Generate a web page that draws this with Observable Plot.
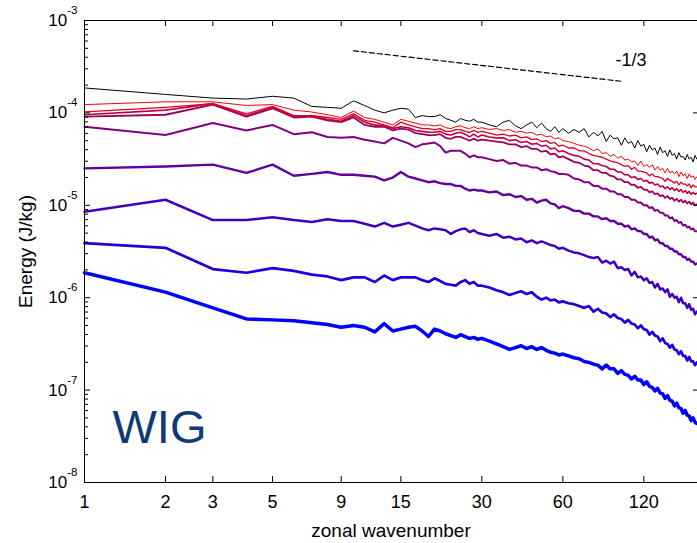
<!DOCTYPE html>
<html><head><meta charset="utf-8">
<script src="https://cdn.jsdelivr.net/npm/d3@7"></script>
<script src="https://cdn.jsdelivr.net/npm/@observablehq/plot@0.6"></script>
<style>
html,body{margin:0;padding:0;background:#fff;}
#chart{width:697px;height:543px;overflow:hidden;}
</style></head><body><div id="chart"></div>
<script>
// zonal wavenumbers sampled
const wavenumbers = [1,2,3,4,5,6,7,8,9,10,11,12,13,14,15,16,17,18,19,20,21,22,23,24,25,26,27,28,29,30,
  32,34,36,38,40,42,44,46,48,50,52,54,56,58,60,
  63,66,69,72,75,78,81,84,87,90,93,96,99,102,105,108,111,114,117,120,123,126,129,132,135,138,141,144,147,150,153,156,159,162,165,168,171,174,177,180,183,186,189];

// log10 of energy (J/kg)
const logE1 = [-3.73,-3.80,-3.84,-3.85,-3.82,-3.84,-3.93,-3.94,-3.95,-3.87,-3.92,-3.97,-4.00,-3.97,-3.95,-3.96,-4.05,-4.03,-4.04,-4.04,-4.02,-4.06,-4.08,-4.10,-4.06,-4.08,-4.09,-4.07,-4.10,-4.10,
  -4.13,-4.15,-4.10,-4.08,-4.14,-4.17,-4.13,-4.10,-4.16,-4.11,-4.17,-4.20,-4.15,-4.21,-4.17,
  -4.22,-4.18,-4.21,-4.17,-4.26,-4.21,-4.25,-4.20,-4.31,-4.24,-4.28,-4.27,-4.35,-4.27,-4.33,-4.31,-4.38,-4.30,-4.36,-4.34,-4.42,-4.35,-4.40,-4.38,-4.45,-4.37,-4.43,-4.41,-4.47,-4.40,-4.46,-4.44,-4.50,-4.43,-4.48,-4.47,-4.51,-4.45,-4.50,-4.48,-4.53,-4.46,-4.50];
const logE2 = [-3.91,-3.88,-3.88,-3.92,-3.91,-3.97,-3.99,-4.02,-4.05,-3.98,-4.05,-4.07,-4.10,-4.13,-4.07,-4.09,-4.11,-4.13,-4.13,-4.14,-4.13,-4.16,-4.17,-4.15,-4.14,-4.16,-4.17,-4.15,-4.17,-4.16,
  -4.18,-4.17,-4.19,-4.18,-4.21,-4.20,-4.22,-4.21,-4.24,-4.23,-4.26,-4.25,-4.28,-4.27,-4.30,
  -4.31,-4.33,-4.35,-4.36,-4.38,-4.41,-4.39,-4.44,-4.43,-4.47,-4.45,-4.49,-4.47,-4.51,-4.50,-4.53,-4.52,-4.57,-4.52,-4.58,-4.56,-4.59,-4.56,-4.62,-4.58,-4.62,-4.60,-4.65,-4.60,-4.65,-4.63,-4.66,-4.63,-4.69,-4.64,-4.68,-4.66,-4.71,-4.66,-4.70,-4.68,-4.72,-4.69];
const logE3 = [-3.99,-3.94,-3.90,-4.01,-3.93,-4.03,-4.03,-4.05,-4.07,-4.01,-4.08,-4.10,-4.13,-4.16,-4.10,-4.13,-4.15,-4.17,-4.17,-4.18,-4.17,-4.20,-4.20,-4.18,-4.18,-4.20,-4.21,-4.19,-4.21,-4.20,
  -4.22,-4.24,-4.23,-4.25,-4.24,-4.27,-4.26,-4.29,-4.28,-4.31,-4.30,-4.33,-4.32,-4.36,-4.35,
  -4.38,-4.38,-4.41,-4.41,-4.44,-4.46,-4.47,-4.48,-4.50,-4.52,-4.53,-4.54,-4.56,-4.58,-4.57,-4.61,-4.59,-4.63,-4.63,-4.64,-4.65,-4.68,-4.66,-4.69,-4.69,-4.70,-4.71,-4.74,-4.71,-4.73,-4.74,-4.76,-4.74,-4.78,-4.75,-4.77,-4.77,-4.79,-4.77,-4.81,-4.78,-4.80,-4.80];
const logE4 = [-4.02,-3.97,-3.90,-4.03,-3.94,-4.04,-4.03,-4.07,-4.09,-4.03,-4.10,-4.13,-4.14,-4.17,-4.15,-4.16,-4.19,-4.20,-4.21,-4.21,-4.20,-4.23,-4.24,-4.22,-4.21,-4.23,-4.26,-4.23,-4.26,-4.24,
  -4.26,-4.27,-4.27,-4.30,-4.29,-4.32,-4.31,-4.34,-4.33,-4.36,-4.35,-4.39,-4.38,-4.42,-4.41,
  -4.44,-4.46,-4.47,-4.50,-4.51,-4.55,-4.55,-4.57,-4.58,-4.61,-4.61,-4.64,-4.64,-4.67,-4.67,-4.70,-4.69,-4.72,-4.71,-4.74,-4.73,-4.76,-4.75,-4.78,-4.77,-4.80,-4.79,-4.82,-4.80,-4.83,-4.81,-4.84,-4.82,-4.85,-4.83,-4.86,-4.84,-4.87,-4.85,-4.88,-4.86,-4.88,-4.87];
const logE5 = [-4.04,-4.02,-3.91,-4.04,-3.95,-4.05,-4.04,-4.08,-4.10,-4.05,-4.13,-4.15,-4.15,-4.19,-4.17,-4.18,-4.22,-4.23,-4.24,-4.24,-4.23,-4.27,-4.28,-4.26,-4.26,-4.28,-4.30,-4.28,-4.30,-4.29,
  -4.30,-4.31,-4.32,-4.34,-4.34,-4.37,-4.36,-4.39,-4.39,-4.42,-4.41,-4.45,-4.44,-4.48,-4.47,
  -4.50,-4.53,-4.54,-4.57,-4.58,-4.62,-4.62,-4.65,-4.65,-4.68,-4.69,-4.72,-4.72,-4.75,-4.75,-4.78,-4.78,-4.81,-4.80,-4.83,-4.83,-4.86,-4.85,-4.88,-4.87,-4.90,-4.89,-4.92,-4.90,-4.93,-4.92,-4.95,-4.93,-4.96,-4.94,-4.97,-4.95,-4.98,-4.96,-4.99,-4.97,-5.00,-4.99];
const logE6 = [-4.15,-4.24,-4.11,-4.19,-4.13,-4.23,-4.21,-4.26,-4.27,-4.26,-4.29,-4.31,-4.33,-4.27,-4.30,-4.33,-4.37,-4.34,-4.33,-4.32,-4.36,-4.43,-4.41,-4.41,-4.41,-4.44,-4.48,-4.46,-4.48,-4.48,
  -4.50,-4.52,-4.51,-4.55,-4.54,-4.57,-4.57,-4.59,-4.59,-4.62,-4.61,-4.63,-4.64,-4.66,-4.66,
  -4.67,-4.71,-4.72,-4.75,-4.75,-4.79,-4.79,-4.82,-4.82,-4.85,-4.85,-4.88,-4.88,-4.91,-4.91,-4.94,-4.94,-4.97,-4.97,-5.00,-5.00,-5.03,-5.02,-5.06,-5.05,-5.08,-5.08,-5.11,-5.11,-5.14,-5.13,-5.17,-5.16,-5.19,-5.18,-5.22,-5.21,-5.24,-5.23,-5.26,-5.25,-5.28,-5.28];
const logE7 = [-4.60,-4.58,-4.56,-4.65,-4.56,-4.68,-4.66,-4.64,-4.67,-4.67,-4.68,-4.69,-4.73,-4.70,-4.64,-4.69,-4.71,-4.73,-4.75,-4.74,-4.76,-4.77,-4.77,-4.79,-4.79,-4.82,-4.84,-4.83,-4.84,-4.84,
  -4.86,-4.85,-4.89,-4.88,-4.91,-4.90,-4.94,-4.93,-4.97,-4.95,-4.94,-4.98,-4.99,-5.03,-5.01,
  -5.03,-5.06,-5.06,-5.09,-5.09,-5.12,-5.12,-5.15,-5.14,-5.17,-5.17,-5.20,-5.20,-5.23,-5.22,-5.26,-5.25,-5.28,-5.28,-5.31,-5.31,-5.35,-5.34,-5.38,-5.37,-5.41,-5.41,-5.44,-5.44,-5.47,-5.47,-5.50,-5.50,-5.53,-5.53,-5.56,-5.56,-5.59,-5.58,-5.61,-5.61,-5.64,-5.63];
const logE8 = [-5.07,-4.94,-5.16,-5.16,-5.13,-5.16,-5.18,-5.15,-5.17,-5.17,-5.20,-5.23,-5.19,-5.23,-5.21,-5.19,-5.22,-5.25,-5.27,-5.25,-5.26,-5.27,-5.31,-5.28,-5.26,-5.25,-5.29,-5.27,-5.30,-5.31,
  -5.33,-5.31,-5.35,-5.34,-5.37,-5.36,-5.40,-5.38,-5.41,-5.39,-5.41,-5.43,-5.44,-5.47,-5.46,
  -5.49,-5.51,-5.52,-5.54,-5.56,-5.57,-5.56,-5.62,-5.60,-5.63,-5.61,-5.68,-5.67,-5.70,-5.69,-5.76,-5.72,-5.78,-5.77,-5.81,-5.79,-5.84,-5.83,-5.89,-5.85,-5.91,-5.90,-5.94,-5.91,-5.99,-5.96,-6.00,-5.99,-6.05,-6.00,-6.06,-6.06,-6.11,-6.07,-6.13,-6.12,-6.18,-6.15];
const logE9 = [-5.41,-5.46,-5.69,-5.73,-5.68,-5.71,-5.75,-5.77,-5.81,-5.78,-5.78,-5.83,-5.76,-5.81,-5.78,-5.78,-5.78,-5.81,-5.83,-5.79,-5.82,-5.85,-5.86,-5.87,-5.83,-5.81,-5.85,-5.83,-5.87,-5.87,
  -5.89,-5.92,-5.94,-5.97,-5.95,-5.93,-5.96,-5.94,-5.99,-6.02,-6.00,-6.03,-6.02,-6.05,-6.04,
  -6.06,-6.07,-6.09,-6.11,-6.09,-6.15,-6.12,-6.16,-6.17,-6.21,-6.18,-6.22,-6.23,-6.27,-6.24,-6.28,-6.29,-6.33,-6.30,-6.34,-6.35,-6.40,-6.37,-6.41,-6.42,-6.47,-6.44,-6.49,-6.50,-6.54,-6.51,-6.56,-6.57,-6.61,-6.58,-6.63,-6.63,-6.68,-6.64,-6.69,-6.69,-6.73,-6.70];
const logE10 = [-5.73,-5.94,-6.11,-6.23,-6.24,-6.25,-6.27,-6.29,-6.32,-6.30,-6.32,-6.37,-6.28,-6.36,-6.34,-6.32,-6.31,-6.36,-6.42,-6.34,-6.36,-6.39,-6.41,-6.43,-6.40,-6.42,-6.44,-6.43,-6.45,-6.44,
  -6.47,-6.50,-6.53,-6.56,-6.54,-6.52,-6.55,-6.53,-6.56,-6.54,-6.57,-6.59,-6.60,-6.62,-6.61,
  -6.63,-6.65,-6.66,-6.69,-6.70,-6.72,-6.73,-6.77,-6.73,-6.77,-6.77,-6.82,-6.79,-6.83,-6.84,-6.88,-6.85,-6.89,-6.89,-6.94,-6.91,-6.96,-6.97,-7.01,-6.98,-7.03,-7.04,-7.09,-7.06,-7.11,-7.12,-7.17,-7.14,-7.19,-7.20,-7.25,-7.22,-7.27,-7.28,-7.33,-7.30,-7.35,-7.36];

const seriesLogs = [logE1, logE2, logE3, logE4, logE5, logE6, logE7, logE8, logE9, logE10];
const seriesColors = ["#000000","#ff0000","#df0020","#bf0040","#9f0060","#800080","#60009f","#4000bf","#2000df","#0000ff"];
const seriesWidths = [1, 1, 1.3, 1.6, 1.8, 2, 2.4, 2.5, 2.7, 3.5];

// reference slope line (-1/3)
const slopeK = [10, 100];
const slopeEnergy = [4.7e-4, 2.19e-4];
const slopeLabel = "-1/3";

const xTicks = [1, 2, 3, 5, 9, 15, 30, 60, 120];
const yMajorTicks = [1e-8, 1e-7, 1e-6, 1e-5, 1e-4, 1e-3];
const yMinorTicks = [];
for (let e = -8; e < -3; e++) for (let m = 2; m <= 9; m++) yMinorTicks.push(m * Math.pow(10, e));
const xLabel = "zonal wavenumber";
const yLabel = "Energy (J/kg)";
const panelLabel = "WIG";

const series = seriesLogs.map((logs, s) => ({
  color: seriesColors[s], width: seriesWidths[s],
  rows: wavenumbers.map((k, i) => ({k, energy: Math.pow(10, logs[i])}))
}));
const slopeRows = slopeK.map((k, i) => ({k, energy: slopeEnergy[i]}));

const font = "'Liberation Sans', Arial, Helvetica, sans-serif";
const empty = () => "";

const chart = Plot.plot({
  width: 697, height: 543,
  marginLeft: 84, marginRight: 0, marginTop: 20, marginBottom: 61,
  x: {type: "log", domain: [1, 190], label: null},
  y: {type: "log", domain: [1e-8, 1e-3], label: null},
  style: {fontFamily: font, background: "#fff", color: "#000"},
  marks: [
    ...series.slice().reverse().map(s => Plot.line(s.rows, {x: "k", y: "energy", stroke: s.color, strokeWidth: s.width, strokeLinejoin: "round"})),
    Plot.line(slopeRows, {x: "k", y: "energy", stroke: "#000", strokeWidth: 1.2, strokeDasharray: "5,3"}),
    Plot.text([slopeRows[1]], {x: "k", y: "energy", text: () => slopeLabel, textAnchor: "start", lineAnchor: "bottom", dx: -7, dy: -15, fontSize: 18, fill: "#000"}),
    Plot.text([panelLabel], {text: d => d, frameAnchor: "bottom-left", textAnchor: "start", lineAnchor: "bottom", dx: 28, dy: -40, fontSize: 47, fill: "#0d3b78"}),
    Plot.frame({anchor: "left", stroke: "#000"}),
    Plot.frame({anchor: "top", stroke: "#000"}),
    Plot.frame({anchor: "bottom", stroke: "#000"}),
    // inward ticks
    Plot.axisX({anchor: "bottom", ticks: xTicks, tickSize: -6, tickFormat: empty, label: null}),
    Plot.axisX({anchor: "top", ticks: xTicks, tickSize: -5, tickFormat: empty, label: null}),
    Plot.axisY({anchor: "left", ticks: yMajorTicks, tickSize: -6, tickFormat: empty, label: null}),
    Plot.axisY({anchor: "left", ticks: yMinorTicks, tickSize: -4, tickFormat: empty, label: null}),
    Plot.axisY({anchor: "right", ticks: yMajorTicks, tickSize: -5, tickFormat: empty, label: null}),
    // tick labels
    Plot.text(xTicks, {x: d => d, text: d => `${d}`, frameAnchor: "bottom", textAnchor: "middle", lineAnchor: "top", dy: 13, fontSize: 18, fill: "#000"}),
    Plot.text(yMajorTicks, {y: d => d, text: d => `10^${Math.round(Math.log10(d))}`, frameAnchor: "left", textAnchor: "end", lineAnchor: "middle", dx: -7, fontSize: 17, fill: "#000"}),
    // axis titles
    Plot.text([xLabel], {text: d => d, frameAnchor: "bottom", textAnchor: "middle", lineAnchor: "bottom", dy: 54, fontSize: 19, fill: "#000"}),
    Plot.text([yLabel], {text: d => d, frameAnchor: "left", textAnchor: "middle", lineAnchor: "middle", rotate: -90, dx: -59, fontSize: 19, fill: "#000"})
  ]
});

// superscript exponents on the y tick labels
chart.querySelectorAll("text").forEach(t => {
  const m = /^10\^(-?\d+)$/.exec(t.textContent);
  if (m) {
    t.textContent = "10";
    const sup = document.createElementNS("http://www.w3.org/2000/svg", "tspan");
    sup.setAttribute("dy", "-12");
    sup.setAttribute("font-size", "11.5px");
    sup.textContent = m[1];
    t.appendChild(sup);
  }
});

document.getElementById("chart").appendChild(chart);
</script>
</body></html>
